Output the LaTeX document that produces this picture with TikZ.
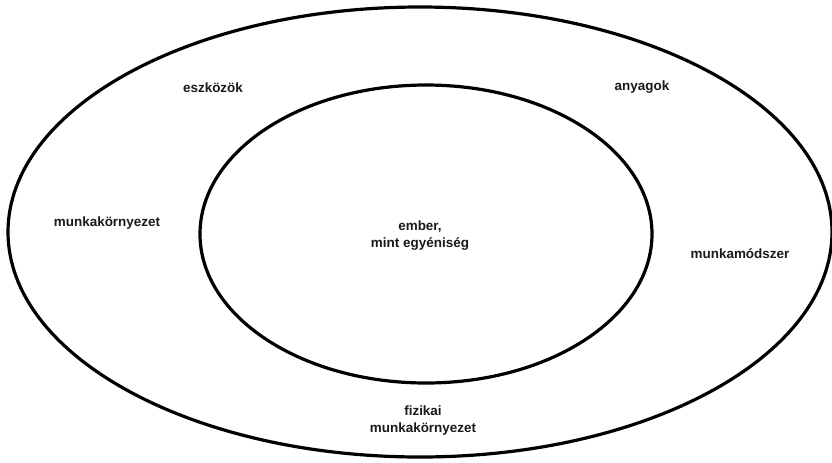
\documentclass[tikz,border=0pt]{standalone}
\usepackage{fontspec}
\setmainfont{Liberation Sans}
\definecolor{inkgray}{RGB}{25, 25, 25}
\tikzset{
	ring/.style={draw=black, line width=2.4pt},
	word/.style={align=center, inner sep=0pt, text=inkgray, font=\bfseries\fontsize{10.1}{12.75}\selectfont},
}

\begin{document}
\begin{tikzpicture}[x=0.75pt, y=-0.75pt]
		\useasboundingbox (0,0) rectangle (832,462);
		% the two rings
		\draw[ring] (420,232) ellipse [x radius=412, y radius=225];
		\draw[ring] (426,234) ellipse [x radius=226, y radius=149];
		% words
		\node[word] (ember) at (420,236) {ember,\\mint egyéniség};
		\node[word] (eszkozok) at (213,88) {eszközök};
		\node[word] (anyagok) at (642,87) {anyagok};
		\node[word] (kornyezet) at (107,223) {munkakörnyezet};
		\node[word] (modszer) at (740,254) {munkamódszer};
		\node[word] (fizikai) at (423,421) {fizikai\\munkakörnyezet};
	\end{tikzpicture}
\end{document}
